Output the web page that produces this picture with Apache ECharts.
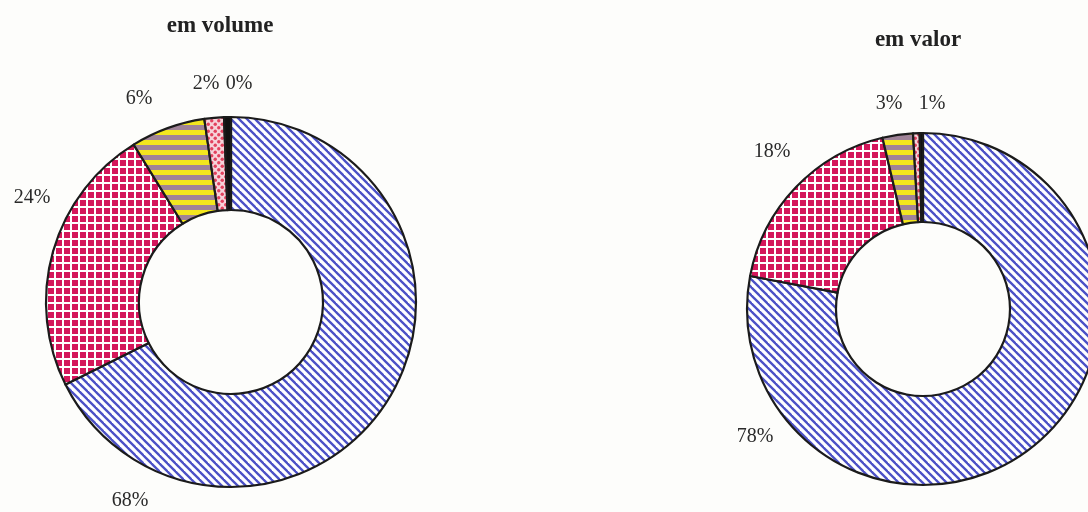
<!DOCTYPE html>
<html>
<head>
<meta charset="utf-8">
<script src="https://cdn.jsdelivr.net/npm/echarts@6/dist/echarts.min.js"></script>
<style>
html,body{margin:0;padding:0;background:#fdfdfb;}
#chart{width:1088px;height:512px;}
</style>
</head>
<body>
<div id="chart"></div>
<script>
// ---- data ----
const categories = ['Categoria A', 'Categoria B', 'Categoria C', 'Categoria D', 'Categoria E'];
const volumeValues = [67.5, 23.5, 6.5, 1.7, 0.6];
const volumeLabels = ['68%', '24%', '6%', '2%', '0%'];
const valorValues = [78, 18.3, 2.8, 0.6, 0.3];
const valorLabels = ['78%', '18%', '3%', '1%', ''];
const titles = ['em volume', 'em valor'];

// ---- label placement (layout, not data) ----
const volumeLabelPos = [[130, 501], [32, 198], [139, 99], [206, 84], [239, 84]];
const valorLabelPos = [[755, 437], [772, 152], [889, 104], [932, 104], [0, 0]];

// ---- patterns ----
function tile(w, h, draw) {
  const c = document.createElement('canvas');
  c.width = w; c.height = h;
  const ctx = c.getContext('2d');
  draw(ctx, w, h);
  return { image: c, repeat: 'repeat' };
}
const blueStripes = tile(8, 8, (ctx, w, h) => {
  ctx.fillStyle = '#ffffff'; ctx.fillRect(0, 0, w, h);
  ctx.strokeStyle = '#4b50c6'; ctx.lineWidth = 2.3;
  for (let c = -w; c <= w; c += w) {
    ctx.beginPath(); ctx.moveTo(c - 2, -2); ctx.lineTo(c + h + 2, h + 2); ctx.stroke();
  }
});
const pinkGrid = tile(8, 8, (ctx, w, h) => {
  ctx.fillStyle = '#ffffff'; ctx.fillRect(0, 0, w, h);
  ctx.fillStyle = '#d4175b'; ctx.fillRect(0, 0, 6, 6);
});
const yellowStripes = tile(8, 10, (ctx, w, h) => {
  ctx.fillStyle = '#f3e61e'; ctx.fillRect(0, 0, w, h);
  ctx.fillStyle = '#a08398'; ctx.fillRect(0, 5, w, 5);
});
const pinkDots = tile(7, 7, (ctx, w, h) => {
  ctx.fillStyle = '#f6d3da'; ctx.fillRect(0, 0, w, h);
  ctx.fillStyle = '#e2415e';
  ctx.beginPath(); ctx.arc(1.75, 1.75, 1.7, 0, Math.PI * 2); ctx.fill();
  ctx.beginPath(); ctx.arc(5.25, 5.25, 1.7, 0, Math.PI * 2); ctx.fill();
});
const fills = [blueStripes, pinkGrid, yellowStripes, pinkDots, '#111111'];

const serif = '"Liberation Serif", "DejaVu Serif", serif';

function buildData(values, labels) {
  return values.map((v, i) => ({
    name: categories[i],
    value: v,
    itemStyle: { color: fills[i] },
    label: { show: labels[i] !== '', formatter: labels[i] }
  }));
}

function pieSeries(values, labels, center, radius, labelPos) {
  return {
    type: 'pie',
    center: center,
    radius: radius,
    startAngle: 90,
    clockwise: true,
    avoidLabelOverlap: false,
    animation: false,
    silent: true,
    itemStyle: { borderColor: '#1b1b1b', borderWidth: 2.2 },
    label: {
      show: true,
      position: 'outside',
      fontFamily: serif,
      fontSize: 20,
      color: '#2a2a2a'
    },
    labelLine: { show: false },
    labelLayout: function (p) {
      const pos = labelPos[p.dataIndex];
      return { x: pos[0], y: pos[1], align: 'center', verticalAlign: 'middle' };
    },
    emphasis: { disabled: true },
    data: buildData(values, labels)
  };
}

const chart = echarts.init(document.getElementById('chart'), null, { renderer: 'canvas' });
chart.setOption({
  backgroundColor: '#fdfdfb',
  title: [
    { text: titles[0], left: 215, top: 10, textAlign: 'center',
      textStyle: { fontFamily: serif, fontWeight: 'bold', fontSize: 23, color: '#222' } },
    { text: titles[1], left: 913, top: 24, textAlign: 'center',
      textStyle: { fontFamily: serif, fontWeight: 'bold', fontSize: 23, color: '#222' } }
  ],
  series: [
    pieSeries(volumeValues, volumeLabels, [231, 302], [92, 185], volumeLabelPos),
    pieSeries(valorValues, valorLabels, [923, 309], [87, 176], valorLabelPos)
  ]
});
</script>
</body>
</html>
